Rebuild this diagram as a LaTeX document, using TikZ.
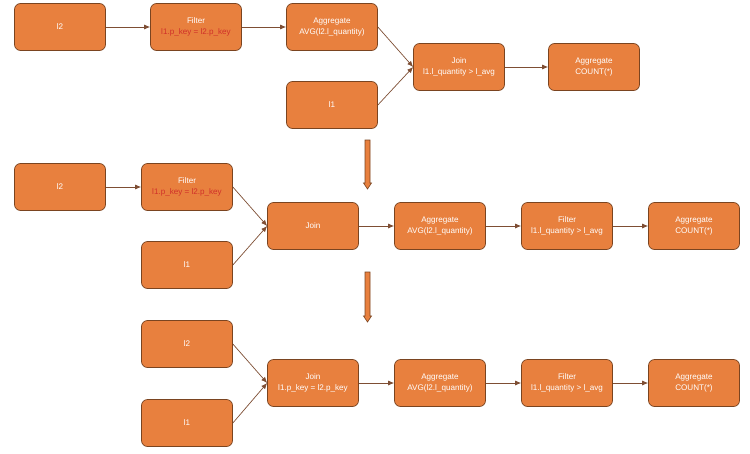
\documentclass[tikz,border=0pt]{standalone}
\usepackage{fontspec}
\setmainfont{Liberation Sans}
\usetikzlibrary{arrows.meta}
\definecolor{boxfill}{HTML}{E8803E}
\definecolor{boxline}{HTML}{7A4420}
\definecolor{conn}{HTML}{7E4E34}
\definecolor{redtxt}{HTML}{D0302A}
\tikzset{
  opbox/.style={draw=boxline, line width=0.7pt, fill=boxfill, rounded corners=6pt,
    minimum width=91pt, minimum height=47pt, inner sep=0pt, align=center,
    text=white, font=\fontsize{8.1}{11}\selectfont},
  conn/.style={draw=conn, line width=0.7pt, -{Latex[length=6pt,width=5pt]}},
  blockarrow/.style={fill=boxfill, draw=boxline, line width=0.6pt},
}
\begin{document}
\begin{tikzpicture}[x=1pt,y=-1pt]
\useasboundingbox (0,0) rectangle (750,453);
% Row 1
\node[opbox] (a2) at (60,27) {l2};
\node[opbox] (af) at (196,27) {Filter\\\textcolor{redtxt}{l1.p\_key = l2.p\_key}};
\node[opbox] (aa) at (332,27) {Aggregate\\AVG(l2.l\_quantity)};
\node[opbox] (a1) at (332,105) {l1};
\node[opbox] (aj) at (459,67) {Join\\l1.l\_quantity > l\_avg};
\node[opbox] (ac) at (594,67) {Aggregate\\COUNT(*)};
\draw[conn] (a2.east) -- (af.west);
\draw[conn] (af.east) -- (aa.west);
\draw[conn] (aa.east) -- (aj.west);
\draw[conn] (a1.east) -- (aj.west);
\draw[conn] (aj.east) -- (ac.west);
% Row 2
\node[opbox] (b2) at (60,187) {l2};
\node[opbox] (bf) at (187,187) {Filter\\\textcolor{redtxt}{l1.p\_key = l2.p\_key}};
\node[opbox] (b1) at (187,265) {l1};
\node[opbox] (bj) at (313,226) {Join};
\node[opbox] (ba) at (440,226) {Aggregate\\AVG(l2.l\_quantity)};
\node[opbox] (bfl) at (567,226) {Filter\\l1.l\_quantity > l\_avg};
\node[opbox] (bc) at (694,226) {Aggregate\\COUNT(*)};
\draw[conn] (b2.east) -- (bf.west);
\draw[conn] (bf.east) -- (bj.west);
\draw[conn] (b1.east) -- (bj.west);
\draw[conn] (bj.east) -- (ba.west);
\draw[conn] (ba.east) -- (bfl.west);
\draw[conn] (bfl.east) -- (bc.west);
% Row 3
\node[opbox] (c2) at (187,344) {l2};
\node[opbox] (c1) at (187,423) {l1};
\node[opbox] (cj) at (313,383) {Join\\l1.p\_key = l2.p\_key};
\node[opbox] (ca) at (440,383) {Aggregate\\AVG(l2.l\_quantity)};
\node[opbox] (cfl) at (567,383) {Filter\\l1.l\_quantity > l\_avg};
\node[opbox] (cc) at (694,383) {Aggregate\\COUNT(*)};
\draw[conn] (c2.east) -- (cj.west);
\draw[conn] (c1.east) -- (cj.west);
\draw[conn] (cj.east) -- (ca.west);
\draw[conn] (ca.east) -- (cfl.west);
\draw[conn] (cfl.east) -- (cc.west);
% Transformation arrows
\draw[blockarrow] (365,140) -- (370,140) -- (370,183) -- (371.5,183) -- (367.5,189) -- (363.5,183) -- (365,183) -- cycle;
\draw[blockarrow] (365,272) -- (370,272) -- (370,316) -- (371.5,316) -- (367.5,322) -- (363.5,316) -- (365,316) -- cycle;
\end{tikzpicture}
\end{document}
